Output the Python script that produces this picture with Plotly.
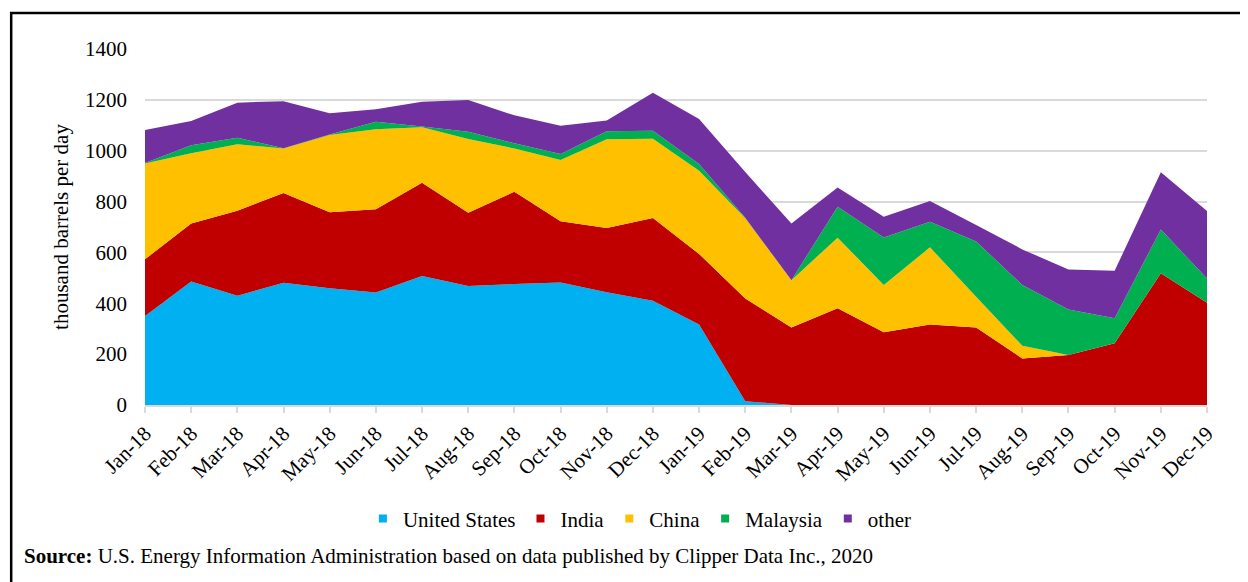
import plotly.graph_objects as go

months = ["Jan-18", "Feb-18", "Mar-18", "Apr-18", "May-18", "Jun-18", "Jul-18", "Aug-18",
          "Sep-18", "Oct-18", "Nov-18", "Dec-18", "Jan-19", "Feb-19", "Mar-19", "Apr-19",
          "May-19", "Jun-19", "Jul-19", "Aug-19", "Sep-19", "Oct-19", "Nov-19", "Dec-19"]

united_states = [350, 486, 430, 481, 459, 442, 507, 468, 476, 482, 443, 410,
                 317, 15, 0, 0, 0, 0, 0, 0, 0, 0, 0, 0]
india = [223, 228, 334, 353, 299, 328, 367, 288, 363, 241, 253, 325,
         277, 404, 305, 380, 286, 317, 305, 183, 197, 243, 518, 402]
china = [377, 276, 261, 175, 304, 314, 218, 290, 170, 240, 349, 312,
         327, 315, 186, 278, 186, 303, 121, 50, 0, 0, 0, 0]
malaysia = [2, 31, 26, 1, 2, 30, 3, 29, 20, 24, 32, 32,
            27, 2, 0, 122, 187, 101, 217, 239, 179, 98, 172, 95]
other = [129, 96, 138, 185, 83, 49, 98, 124, 110, 111, 42, 149,
         177, 180, 223, 75, 81, 81, 65, 140, 157, 187, 225, 266]

y_ticks = [0, 200, 400, 600, 800, 1000, 1200, 1400]

series = [
    ("United States", united_states, "#00B0F0"),
    ("India", india, "#C00000"),
    ("China", china, "#FFC000"),
    ("Malaysia", malaysia, "#00B050"),
    ("other", other, "#7030A0"),
]

x_idx = list(range(len(months)))

fig = go.Figure()
for name, vals, color in series:
    fig.add_trace(go.Scatter(
        x=x_idx, y=vals, name=name, mode="lines",
        stackgroup="one", line=dict(width=0, color=color),
        fillcolor=color, hoverinfo="x+y+name", showlegend=False,
    ))
# legend entries with square keys
for name, vals, color in series:
    fig.add_trace(go.Scatter(
        x=[None], y=[None], name=name, mode="markers",
        marker=dict(symbol="square", size=8, color=color),
        showlegend=True, hoverinfo="skip",
    ))

font_family = "Liberation Serif"
fs = 21

fig.update_layout(
    width=1240, height=574,
    margin=dict(l=137, r=41, t=41, b=177),
    paper_bgcolor="white", plot_bgcolor="white",
    font=dict(family=font_family, size=fs, color="#000000"),
    showlegend=True,
    legend=dict(orientation="h", x=0.466, xanchor="center", y=-0.32, yanchor="middle",
                font=dict(size=fs), itemsizing="trace", traceorder="normal",
                itemwidth=30, tracegroupgap=0),
    xaxis=dict(
        tickmode="array", tickvals=x_idx, ticktext=months, tickangle=-45,
        range=[0, len(months) - 1], showgrid=False, zeroline=False,
        showline=True, linecolor="#D9D9D9", linewidth=2,
        ticks="outside", ticklen=6, tickcolor="#D9D9D9", tickwidth=2,
        tickfont=dict(size=fs),
    ),
    yaxis=dict(
        range=[0, 1400], tickvals=y_ticks, showgrid=True, gridcolor="#D9D9D9",
        gridwidth=2, zeroline=False, showline=False, ticks="",
        ticklabelstandoff=17, tickfont=dict(size=fs),
        title=dict(text="thousand barrels per day", font=dict(size=fs), standoff=10),
    ),
    annotations=[
        dict(text="<b>Source:</b> U.S. Energy Information Administration based on data published by Clipper Data Inc., 2020",
             xref="paper", yref="paper", x=-0.116, y=-0.424, xanchor="left", yanchor="middle",
             showarrow=False, font=dict(size=fs, family=font_family)),
    ],
    shapes=[
        dict(type="rect", xref="paper", yref="paper", x0=-0.126, x1=1.2, y0=-0.7, y1=1.101,
             line=dict(color="black", width=2.5), fillcolor="rgba(0,0,0,0)", layer="above"),
    ],
)

fig.write_html("out.html")
